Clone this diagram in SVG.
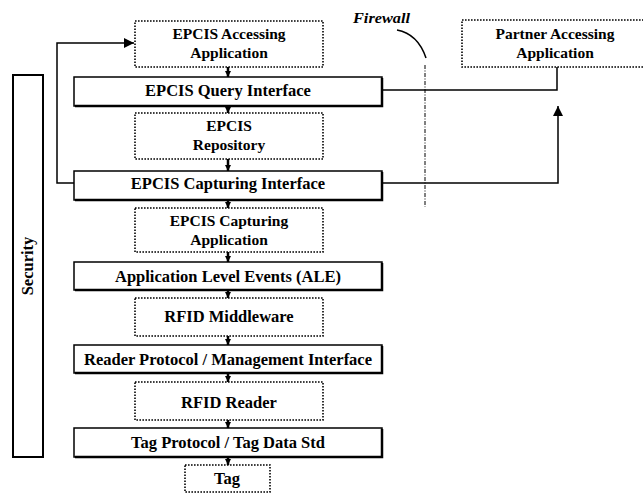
<svg xmlns="http://www.w3.org/2000/svg" width="643" height="493" viewBox="0 0 643 493">
<defs>
<style>
.solid{fill:#fff;stroke:#000;stroke-width:1.5}
.shadow{fill:none;stroke:#000;stroke-width:2.5}
.dotted{fill:#fff;stroke:#000;stroke-width:1.6;stroke-dasharray:1.6 1.4}
.t{font-family:"Liberation Serif","Times New Roman",serif;font-weight:bold;font-size:16.5px;fill:#000;text-anchor:middle}
.t2{font-size:15.5px}
.fw{font-family:"Liberation Serif","Times New Roman",serif;font-weight:bold;font-style:italic;font-size:14px;fill:#000}
.line{fill:none;stroke:#000;stroke-width:1.5}
.stub{fill:none;stroke:#000;stroke-width:2.5}
</style>
<marker id="ah" viewBox="0 0 10 10" refX="10" refY="5" markerWidth="10" markerHeight="10" markerUnits="userSpaceOnUse" orient="auto">
<path d="M0,0 L10,5 L0,10 z" fill="#000"/>
</marker>
<marker id="sa" viewBox="0 0 10 10" refX="10" refY="5" markerWidth="6" markerHeight="7" markerUnits="userSpaceOnUse" orient="auto">
<path d="M0,0 L10,5 L0,10 z" fill="#000"/>
</marker>
</defs>
<rect width="643" height="493" fill="#fff"/>

<g id="security">
<rect x="13" y="75" width="30" height="382" fill="#fff" stroke="#000" stroke-width="2"/>
<text class="t" transform="translate(33,266) rotate(-90)">Security</text>
</g>

<g id="firewall">
<text class="fw" x="353" y="23" textLength="57" lengthAdjust="spacingAndGlyphs">Firewall</text>
<path d="M397,30 Q418,34 426,58" fill="none" stroke="#000" stroke-width="1.5"/>
<line x1="425" y1="65" x2="425" y2="207" stroke="#000" stroke-width="1" stroke-dasharray="4 1.5 1 1.5"/>
</g>

<g id="epcis-accessing-application">
<rect class="dotted" x="135" y="21" width="188" height="46"/>
<text class="t t2" x="229" y="39">EPCIS Accessing</text>
<text class="t t2" x="229" y="58">Application</text>
</g>

<g id="epcis-query-interface">
<rect class="solid" x="74" y="77" width="308" height="29"/>
<path class="shadow" d="M382,78 V106 H75"/>
<text class="t" x="228" y="96">EPCIS Query Interface</text>
</g>

<g id="epcis-repository">
<rect class="dotted" x="135" y="113" width="188" height="46"/>
<text class="t t2" x="229" y="131">EPCIS</text>
<text class="t t2" x="229" y="150">Repository</text>
</g>

<g id="epcis-capturing-interface">
<rect class="solid" x="74" y="171" width="308" height="29"/>
<path class="shadow" d="M382,172 V200 H75"/>
<text class="t" x="228" y="189">EPCIS Capturing Interface</text>
</g>

<g id="epcis-capturing-application">
<rect class="dotted" x="135" y="208" width="188" height="44"/>
<text class="t t2" x="229" y="226">EPCIS Capturing</text>
<text class="t t2" x="229" y="245">Application</text>
</g>

<g id="ale">
<rect class="solid" x="74" y="262" width="308" height="28"/>
<path class="shadow" d="M382,263 V290 H75"/>
<text class="t" x="228" y="282">Application Level Events (ALE)</text>
</g>

<g id="rfid-middleware">
<rect class="dotted" x="135" y="298" width="188" height="38"/>
<text class="t" x="229" y="322">RFID Middleware</text>
</g>

<g id="reader-protocol">
<rect class="solid" x="74" y="345" width="308" height="28"/>
<path class="shadow" d="M382,346 V373 H75"/>
<text class="t" x="228" y="365">Reader Protocol / Management Interface</text>
</g>

<g id="rfid-reader">
<rect class="dotted" x="135" y="382" width="188" height="38"/>
<text class="t" x="229" y="408">RFID Reader</text>
</g>

<g id="tag-protocol">
<rect class="solid" x="74" y="428" width="308" height="29"/>
<path class="shadow" d="M382,429 V457 H75"/>
<text class="t" x="228" y="448">Tag Protocol / Tag Data Std</text>
</g>

<g id="tag">
<rect class="dotted" x="185" y="465" width="85" height="27"/>
<text class="t" x="227" y="484">Tag</text>
</g>

<g id="partner-accessing-application">
<rect class="dotted" x="462" y="20" width="190" height="47"/>
<text class="t t2" x="555" y="39">Partner Accessing</text>
<text class="t t2" x="555" y="58">Application</text>
</g>

<g id="connectors">
<path class="line" d="M74,183 H57 V43 H134" marker-end="url(#ah)"/>
<path class="line" d="M383,90 H557 V67"/>
<path class="line" d="M383,183 H558 V106" marker-end="url(#ah)"/>
<line class="stub" x1="228" y1="67" x2="228" y2="77" marker-end="url(#sa)"/>
<line class="stub" x1="228" y1="106" x2="228" y2="113" marker-end="url(#sa)"/>
<line class="stub" x1="228" y1="159" x2="228" y2="171" marker-end="url(#sa)"/>
<line class="stub" x1="228" y1="200" x2="228" y2="208" marker-end="url(#sa)"/>
<line class="stub" x1="228" y1="252" x2="228" y2="262" marker-end="url(#sa)"/>
<line class="stub" x1="228" y1="290" x2="228" y2="298" marker-end="url(#sa)"/>
<line class="stub" x1="228" y1="336" x2="228" y2="345" marker-end="url(#sa)"/>
<line class="stub" x1="228" y1="373" x2="228" y2="382" marker-end="url(#sa)"/>
<line class="stub" x1="228" y1="420" x2="228" y2="428" marker-end="url(#sa)"/>
<line class="stub" x1="228" y1="457" x2="228" y2="465" marker-end="url(#sa)"/>
</g>
</svg>
